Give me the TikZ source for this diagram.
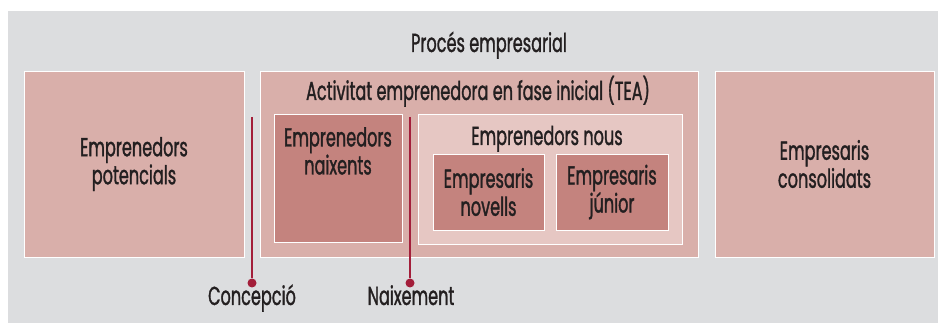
\documentclass[tikz,border=0pt]{standalone}
\usepackage{fontspec}
\setmainfont{Poppins}[FakeStretch=0.62, FakeBold=1.2]
\usetikzlibrary{positioning}
\definecolor{bg-gray}{RGB}{220, 221, 223}
\definecolor{rose-light}{RGB}{217, 175, 170}
\definecolor{rose-pale}{RGB}{230, 199, 195}
\definecolor{rose-dark}{RGB}{196, 131, 126}
\definecolor{milestone-red}{RGB}{163, 30, 58}
\definecolor{label-black}{RGB}{35, 31, 32}
\tikzset{
  stage/.style={draw=white, line width=0.8pt, inner sep=0pt, align=center},
  milestone/.style={draw=milestone-red, line width=2.6pt},
  milestone dot/.style={circle, fill=milestone-red, inner sep=0pt, minimum size=9pt}
}

\begin{document}
\begin{tikzpicture}[x=1pt, y=-1pt,
    every node/.style={font=\fontsize{26}{28}\selectfont, text=label-black}]
\useasboundingbox (0,0) rectangle (938,323);
\fill[bg-gray] (8,11) rectangle (938,323);

\node[anchor=base] (proces) at (489,52) {Procés empresarial};

\node[stage, fill=rose-light, minimum width=220pt, minimum height=186pt] (potencials) at (134,164) {Emprenedors\\potencials};
\node[stage, fill=rose-light, minimum width=438pt, minimum height=186pt] (tea) at (479,164) {};
\node[stage, fill=rose-light, minimum width=219pt, minimum height=186pt] (consolidats) at (824.5,164) {Empresaris\\consolidats};
\node[anchor=base] (tea-title) at (478,100) {Activitat emprenedora en fase inicial (TEA)};

\node[stage, fill=rose-dark, minimum width=128pt, minimum height=128pt] (naixents) at (338,178) {};
\node[anchor=north, align=center, inner sep=0pt] (naixents-text) at (338,127) {Emprenedors\\naixents};

\node[stage, fill=rose-pale, minimum width=264pt, minimum height=130pt] (nous) at (550,179) {};
\node[anchor=base] (nous-title) at (547,145) {Emprenedors nous};
\node[stage, fill=rose-dark, minimum width=111pt, minimum height=76pt] (novells) at (488.5,192) {Empresaris\\novells};
\node[stage, fill=rose-dark, minimum width=112pt, minimum height=76pt] (junior) at (612,192) {Empresaris\\júnior};

% fites
\coordinate (concepcio-top) at (252,117);
\node[milestone dot] (concepcio-dot) at (252,283) {};
\draw[milestone] (concepcio-top) -- (concepcio-dot);
\node[anchor=base] (concepcio) at (252,305) {Concepció};

\coordinate (naixement-top) at (410,117);
\node[milestone dot] (naixement-dot) at (410,283) {};
\draw[milestone] (naixement-top) -- (naixement-dot);
\node[anchor=base] (naixement) at (411,305) {Naixement};
\end{tikzpicture}
\end{document}
